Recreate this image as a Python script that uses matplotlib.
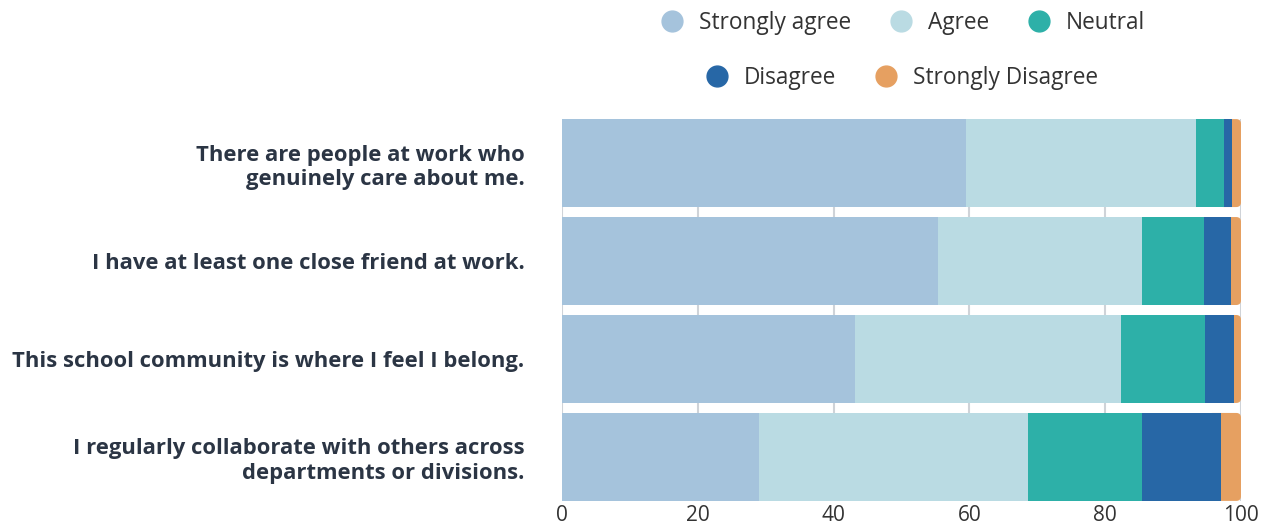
import matplotlib
matplotlib.use("Agg")
import matplotlib.pyplot as plt
from matplotlib.lines import Line2D
from matplotlib.patches import FancyBboxPatch
import numpy as np

plt.rcParams['font.family'] = ['Open Sans', 'DejaVu Sans']

statements = [
    "There are people at work who\ngenuinely care about me.",
    "I have at least one close friend at work.",
    "This school community is where I feel I belong.",
    "I regularly collaborate with others across\ndepartments or divisions.",
]
responses = ["Strongly agree", "Agree", "Neutral", "Disagree", "Strongly Disagree"]
strongly_agree = [59.5, 55.4, 43.2, 29.0]
agree = [33.9, 30.0, 39.1, 39.6]
neutral = [4.1, 9.1, 12.4, 16.8]
disagree = [1.2, 4.0, 4.3, 11.7]
strongly_disagree = [1.3, 1.5, 1.0, 2.9]

colors = ['#a5c3dc', '#badbe3', '#2db0a8', '#2767a6', '#e6a061']
text_col = '#2b3544'
bar_h = 0.898

fig = plt.figure(figsize=(12.68, 5.29), dpi=100)
ax = fig.add_axes([562/1268, 1-501/529, (1241-562)/1268, (501-119)/529])

y = np.arange(len(statements))
left = np.zeros(len(statements))
series = [strongly_agree, agree, neutral, disagree, strongly_disagree]
for i, (vals, name, c) in enumerate(zip(series, responses, colors)):
    vals = np.array(vals)
    if i < len(series) - 1:
        ax.barh(y, vals, left=left, height=bar_h, color=c, label=name, zorder=2)
    else:
        # last segment gets a rounded right end; its left part hides under the previous segment
        for yi, l, w in zip(y, left, vals):
            ax.add_patch(FancyBboxPatch((l - 2, yi - bar_h/2), w + 2, bar_h,
                                        boxstyle="round,pad=0,rounding_size=0.7",
                                        mutation_aspect=0.069, facecolor=c,
                                        edgecolor='none', zorder=1.9))
    left = left + vals

ax.set_xlim(0, 100)
ax.set_ylim(3.45, -0.45)
ax.set_xticks([0, 20, 40, 60, 80, 100])
ax.set_yticks(y)
ax.set_yticklabels(statements, fontsize=15.8, fontweight='bold', color=text_col, linespacing=1.2)
ax.tick_params(axis='y', length=0, pad=27)
ax.tick_params(axis='x', length=0, pad=3, labelsize=15, labelcolor='#333333')
ax.grid(axis='x', color='#cfd3d8', linewidth=1.5, zorder=0)
for s in ax.spines.values():
    s.set_visible(False)

handles = [Line2D([], [], marker='o', linestyle='', markersize=15, color=c) for c in colors]
leg1 = fig.legend(handles[:3], responses[:3], loc='center', bbox_to_anchor=(897/1268, 1-23/529),
                  ncol=3, frameon=False, fontsize=16.3, handletextpad=0.2, columnspacing=1.2)
leg2 = fig.legend(handles[3:], responses[3:], loc='center', bbox_to_anchor=(896/1268, 1-78/529),
                  ncol=2, frameon=False, fontsize=16.3, handletextpad=0.2, columnspacing=1.2)
for leg in (leg1, leg2):
    for t in leg.get_texts():
        t.set_color('#333333')

fig.savefig('out.png', dpi=100)
